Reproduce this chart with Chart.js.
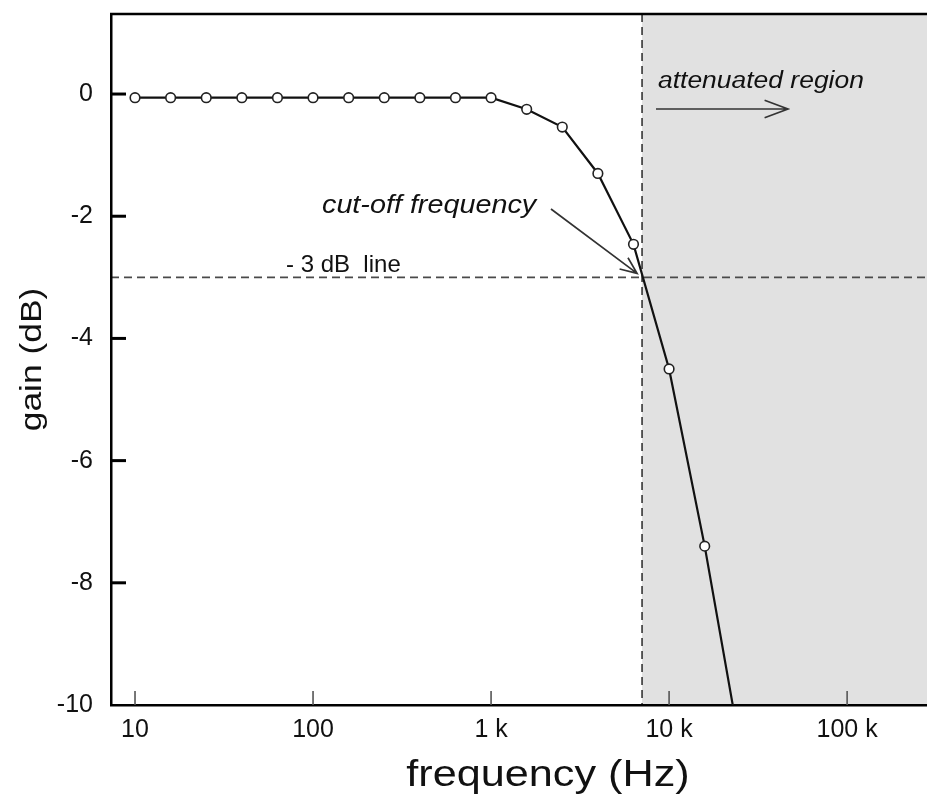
<!DOCTYPE html>
<html>
<head>
<meta charset="utf-8">
<script src="https://cdn.jsdelivr.net/npm/chart.js@4"></script>
<style>
    html, body { margin: 0; padding: 0; background: #fff; overflow: hidden; }
    #wrap { width: 927px; height: 795px; position: relative; }
</style>
</head>
<body>
<div id="wrap"><canvas id="gainChart"></canvas></div>
<script>
// Measured response: 5 points per decade
const freqHz = [10, 15.85, 25.12, 39.81, 63.1, 100, 158.5, 251.2, 398.1, 631, 1000, 1585, 2512, 3981, 6310, 10000, 15849, 25119];
const gainDb = [-0.06, -0.06, -0.06, -0.06, -0.06, -0.06, -0.06, -0.06, -0.06, -0.06, -0.06, -0.25, -0.54, -1.3, -2.46, -4.5, -7.4, -10.7];

const xTickValues = [10, 100, 1000, 10000, 100000];
const xTickLabels = ['10', '100', '1 k', '10 k', '100 k'];
const yTickValues = [-10, -8, -6, -4, -2, 0];

const xRange = [7.33, 281000];
const yRange = [-10, 1.31];

const cutoffHz = 7050;
const cutoffDb = -3;

const FONT = '"Liberation Sans", Helvetica, Arial, sans-serif';

// text drawn with a horizontal stretch like the original artwork
const drawText = (ctx, str, x, y, opts) => {
    const o = Object.assign({ size: 24, style: '', sx: 1, align: 'left', rotate: 0 }, opts);
    ctx.save();
    ctx.translate(x, y);
    if (o.rotate) ctx.rotate(o.rotate);
    ctx.scale(o.sx, 1);
    ctx.font = `${o.style} ${o.size}px ${FONT}`;
    ctx.fillStyle = '#111';
    ctx.textAlign = o.align;
    ctx.textBaseline = 'alphabetic';
    ctx.fillText(str, 0, 0);
    ctx.restore();
};

const drawArrow = (ctx, x1, y1, x2, y2, head, spread) => {
    const a = Math.atan2(y2 - y1, x2 - x1);
    ctx.beginPath();
    ctx.moveTo(x1, y1);
    ctx.lineTo(x2, y2);
    ctx.moveTo(x2 - head * Math.cos(a - spread), y2 - head * Math.sin(a - spread));
    ctx.lineTo(x2, y2);
    ctx.lineTo(x2 - head * Math.cos(a + spread), y2 - head * Math.sin(a + spread));
    ctx.stroke();
};

// no extra room for tick labels: the frame is fixed
const fixBox = (size, key) => scale => {
    scale[key] = size;
    scale.paddingTop = 0;
    scale.paddingBottom = 0;
    scale.paddingLeft = 0;
    scale.paddingRight = 0;
};

const decorPlugin = {
    id: 'decor',
    beforeDraw(chart) {
        const { ctx, chartArea: ca, scales } = chart;
        const xc = scales.x.getPixelForValue(cutoffHz);
        const yc = scales.y.getPixelForValue(cutoffDb);
        ctx.save();
        // attenuated region shading
        ctx.fillStyle = '#e1e1e1';
        ctx.fillRect(xc, ca.top, ca.right - xc, ca.bottom - ca.top);
        // -3 dB line and cut-off line
        ctx.strokeStyle = '#4a4a4a';
        ctx.lineWidth = 1.8;
        ctx.setLineDash([8, 5]);
        ctx.beginPath();
        ctx.moveTo(ca.left, yc);
        ctx.lineTo(ca.right, yc);
        ctx.moveTo(xc, ca.top);
        ctx.lineTo(xc, ca.bottom);
        ctx.stroke();
        ctx.restore();
    },
    afterDraw(chart) {
        const { ctx, chartArea: ca, scales } = chart;
        const xs = scales.x, ys = scales.y;
        ctx.save();
        // top frame line
        ctx.strokeStyle = '#000';
        ctx.lineWidth = 2.5;
        ctx.beginPath();
        ctx.moveTo(ca.left - 1, ca.top);
        ctx.lineTo(ca.right, ca.top);
        ctx.stroke();
        // inward ticks
        ctx.lineWidth = 3;
        yTickValues.forEach(v => {
            const y = ys.getPixelForValue(v);
            if (v === yRange[0]) return;
            ctx.beginPath();
            ctx.moveTo(ca.left, y);
            ctx.lineTo(ca.left + 15, y);
            ctx.stroke();
        });
        ctx.strokeStyle = '#555';
        ctx.lineWidth = 1.6;
        xTickValues.forEach(v => {
            const x = xs.getPixelForValue(v);
            ctx.beginPath();
            ctx.moveTo(x, ca.bottom);
            ctx.lineTo(x, ca.bottom - 14);
            ctx.stroke();
        });

        // annotations
        const xc = xs.getPixelForValue(cutoffHz);
        const yc = ys.getPixelForValue(cutoffDb);
        drawText(ctx, 'attenuated region', 658, 88, { size: 23, style: 'italic', sx: 1.15 });
        drawText(ctx, 'cut-off frequency', 322, 213, { size: 25, style: 'italic', sx: 1.15 });
        drawText(ctx, '- 3 dB  line', 286, 272, { size: 24 });
        ctx.strokeStyle = '#333';
        ctx.lineWidth = 1.7;
        drawArrow(ctx, 656, 109, 788, 109, 25, 0.36);
        drawArrow(ctx, 551, 209, xc - 5, yc - 4, 18, 0.4);

        // axis titles
        drawText(ctx, 'frequency (Hz)', 548, 786, { size: 36, sx: 1.2, align: 'center' });
        drawText(ctx, 'gain (dB)', 41, (ca.top + ca.bottom) / 2, { size: 29, sx: 1.22, align: 'center', rotate: -Math.PI / 2 });
        ctx.restore();
    }
};

new Chart(document.getElementById('gainChart').getContext('2d'), {
    type: 'line',
    data: {
        datasets: [{
            data: freqHz.map((f, i) => ({ x: f, y: gainDb[i] })),
            borderColor: '#111',
            borderWidth: 2.2,
            pointRadius: 4.8,
            pointBorderWidth: 1.6,
            pointBorderColor: '#222',
            pointBackgroundColor: '#fff',
            tension: 0,
            clip: 0
        }]
    },
    options: {
        responsive: true,
        maintainAspectRatio: false,
        animation: false,
        events: [],
        layout: { autoPadding: false, padding: { top: 14, right: 0, left: 0, bottom: 0 } },
        plugins: {
            legend: { display: false },
            tooltip: { enabled: false }
        },
        scales: {
            x: {
                type: 'logarithmic',
                min: xRange[0],
                max: xRange[1],
                afterBuildTicks: scale => { scale.ticks = xTickValues.map(v => ({ value: v })); },
                afterFit: fixBox(90, 'height'),
                grid: { display: false, drawTicks: false },
                border: { display: true, color: '#000', width: 2.5 },
                ticks: {
                    color: '#111',
                    font: { family: FONT, size: 25 },
                    padding: 10,
                    maxRotation: 0,
                    autoSkip: false,
                    callback: (v) => xTickLabels[xTickValues.indexOf(v)] ?? ''
                }
            },
            y: {
                min: yRange[0],
                max: yRange[1],
                afterBuildTicks: scale => { scale.ticks = yTickValues.map(v => ({ value: v })); },
                afterFit: fixBox(111, 'width'),
                grid: { display: false, drawTicks: false },
                border: { display: true, color: '#000', width: 2.5 },
                ticks: {
                    color: '#111',
                    font: { family: FONT, size: 25 },
                    padding: 18,
                    callback: (v) => String(v)
                }
            }
        }
    },
    plugins: [decorPlugin]
});
</script>
</body>
</html>
